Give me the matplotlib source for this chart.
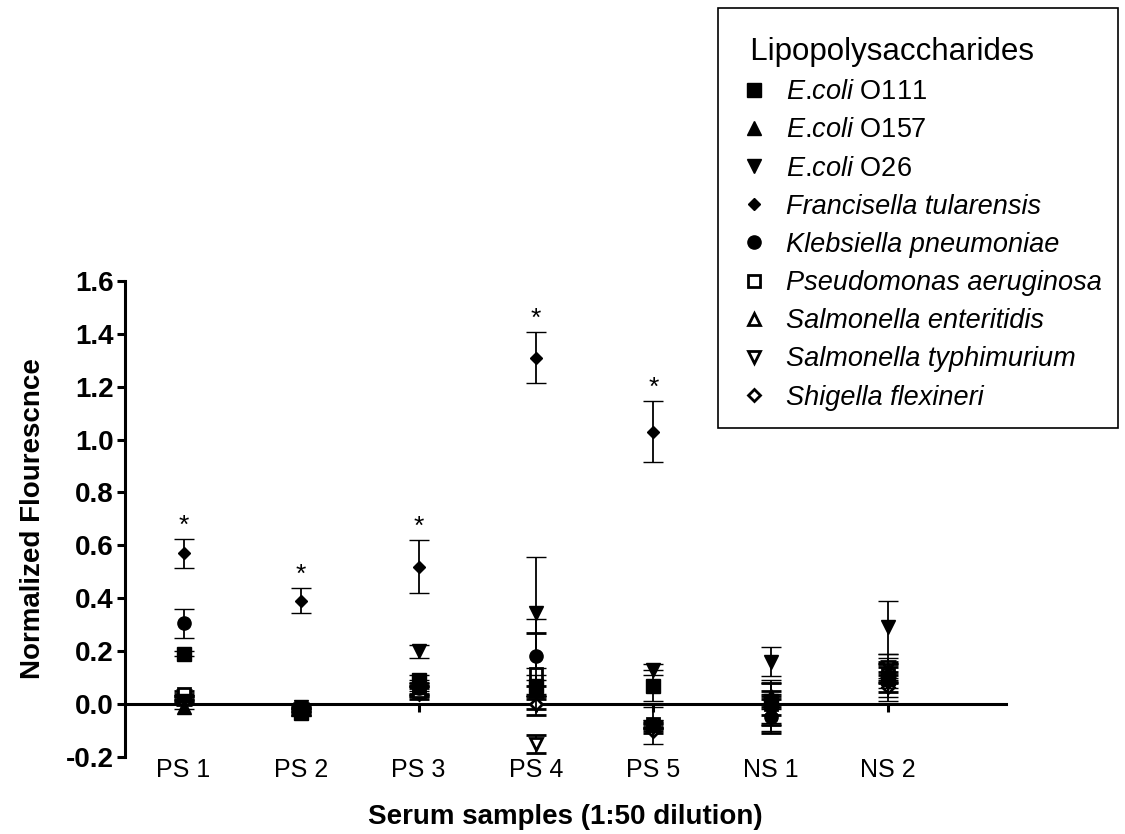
import matplotlib
matplotlib.use('Agg')
import matplotlib.pyplot as plt
from matplotlib.lines import Line2D
from matplotlib.patches import Rectangle
import numpy as np

plt.rcParams['font.family'] = ['Liberation Sans', 'DejaVu Sans']
plt.rcParams['mathtext.fontset'] = 'custom'
plt.rcParams['mathtext.it'] = 'Liberation Sans:italic'
plt.rcParams['mathtext.rm'] = 'Liberation Sans'

samples = ['PS 1', 'PS 2', 'PS 3', 'PS 4', 'PS 5', 'NS 1', 'NS 2']

# mean values and error (+/-) for each LPS, per serum sample
ecoli_o111 = [0.19, -0.035, 0.09, 0.07, 0.07, 0.01, 0.10]
ecoli_o111_err = [0.01, 0.01, 0.02, 0.04, 0.06, 0.08, 0.09]
ecoli_o157 = [-0.01, -0.02, 0.07, 0.06, -0.08, 0.03, 0.12]
ecoli_o157_err = [0.01, 0.01, 0.02, 0.03, 0.02, 0.05, 0.03]
ecoli_o26 = [0.01, -0.01, 0.20, 0.345, 0.13, 0.16, 0.29]
ecoli_o26_err = [0.01, 0.01, 0.025, 0.21, 0.02, 0.055, 0.10]
francisella = [0.57, 0.39, 0.52, 1.31, 1.03, -0.02, 0.08]
francisella_err = [0.055, 0.047, 0.10, 0.095, 0.115, 0.06, 0.02]
klebsiella = [0.305, -0.03, 0.06, 0.18, -0.08, -0.05, 0.10]
klebsiella_err = [0.055, 0.01, 0.02, 0.14, 0.07, 0.05, 0.075]
pseudomonas = [0.04, -0.03, 0.05, 0.115, -0.075, 0.0, 0.11]
pseudomonas_err = [0.01, 0.01, 0.02, 0.155, 0.01, 0.08, 0.03]
s_enteritidis = [0.02, -0.02, 0.06, 0.05, -0.08, 0.02, 0.13]
s_enteritidis_err = [0.01, 0.01, 0.02, 0.02, 0.01, 0.03, 0.02]
s_typhimurium = [0.03, -0.02, 0.05, -0.15, -0.085, -0.01, 0.14]
s_typhimurium_err = [0.01, 0.01, 0.02, 0.035, 0.01, 0.03, 0.02]
shigella = [0.02, -0.03, 0.04, 0.0, -0.10, -0.04, 0.065]
shigella_err = [0.01, 0.01, 0.02, 0.02, 0.01, 0.07, 0.02]

significant = [True, True, True, True, True, False, False]  # Francisella *

series = [
    (r'$\mathit{E}$.$\mathit{coli}$ O111', ecoli_o111, ecoli_o111_err, 's', 'k', 9.5),
    (r'$\mathit{E}$.$\mathit{coli}$ O157', ecoli_o157, ecoli_o157_err, '^', 'k', 9.5),
    (r'$\mathit{E}$.$\mathit{coli}$ O26', ecoli_o26, ecoli_o26_err, 'v', 'k', 9.5),
    ('Francisella tularensis', francisella, francisella_err, 'D', 'k', 6.5),
    ('Klebsiella pneumoniae', klebsiella, klebsiella_err, 'o', 'k', 9.5),
    ('Pseudomonas aeruginosa', pseudomonas, pseudomonas_err, 's', 'w', 8.5),
    ('Salmonella enteritidis', s_enteritidis, s_enteritidis_err, '^', 'w', 9),
    ('Salmonella typhimurium', s_typhimurium, s_typhimurium_err, 'v', 'w', 9),
    ('Shigella flexineri', shigella, shigella_err, 'D', 'w', 6.5),
]

x = np.arange(1, len(samples) + 1)

fig = plt.figure(figsize=(11.25, 8.34), dpi=100)
ax = fig.add_axes([0.111, 0.0923, 0.783, 0.571])

ax.spines['top'].set_visible(False)
ax.spines['right'].set_visible(False)
ax.spines['bottom'].set_position(('data', 0))
ax.spines['bottom'].set_linewidth(2.2)
ax.spines['left'].set_linewidth(2.2)

handles = []
for i, (name, vals, errs, mk, face, ms) in enumerate(series):
    # first data sets sit on top, like the original software
    ax.errorbar(x, vals, yerr=errs, fmt=mk, color='k', mfc=face, mec='k',
                ms=ms, mew=2 if face == 'w' else 1, capsize=7,
                elinewidth=1.3, capthick=1.3, zorder=30 - i)
    handles.append(Line2D([], [], ls='none', marker=mk, color='k', mfc=face,
                          mec='k', ms=ms, mew=2 if face == 'w' else 1))

for xi, v, e, s in zip(x, francisella, francisella_err, significant):
    if s:
        ax.text(xi, v + e + 0.005, '*', ha='center', va='bottom', fontsize=19)

ax.set_xlim(0.5, 8.0)
ax.set_ylim(-0.2, 1.6)
yt = np.arange(-0.2, 1.61, 0.2)
ax.set_yticks(yt)
ax.set_yticklabels(['%.1f' % v for v in yt], fontweight='bold', fontsize=20)
ax.set_xticks(x)
ax.set_xticklabels(samples, fontsize=18)
ax.tick_params(axis='y', length=6, width=2.2, pad=2)
ax.tick_params(axis='x', length=6, width=2.2, pad=33)

ax.set_ylabel('Normalized Flourescnce', fontsize=20, fontweight='bold', labelpad=14)
ax.set_xlabel('Serum samples (1:50 dilution)', fontsize=20, fontweight='bold',
              labelpad=16)

# legend without its own frame, box drawn separately
leg = fig.legend(handles, [s[0] for s in series], loc='upper left',
                 bbox_to_anchor=(733 / 1125, 1 - 37 / 834),
                 title='  Lipopolysaccharides', title_fontsize=22.5,
                 fontsize=19.5, alignment='left', frameon=False,
                 borderpad=0, handlelength=1.55, handletextpad=0.4,
                 labelspacing=0.45, borderaxespad=0)
for t in leg.get_texts()[3:]:
    t.set_fontstyle('italic')
fig.add_artist(Rectangle((718 / 1125, 1 - 428 / 834), 400 / 1125, 420 / 834,
                         transform=fig.transFigure, fill=False,
                         edgecolor='k', linewidth=1.2))

fig.savefig('out.png', dpi=100)
